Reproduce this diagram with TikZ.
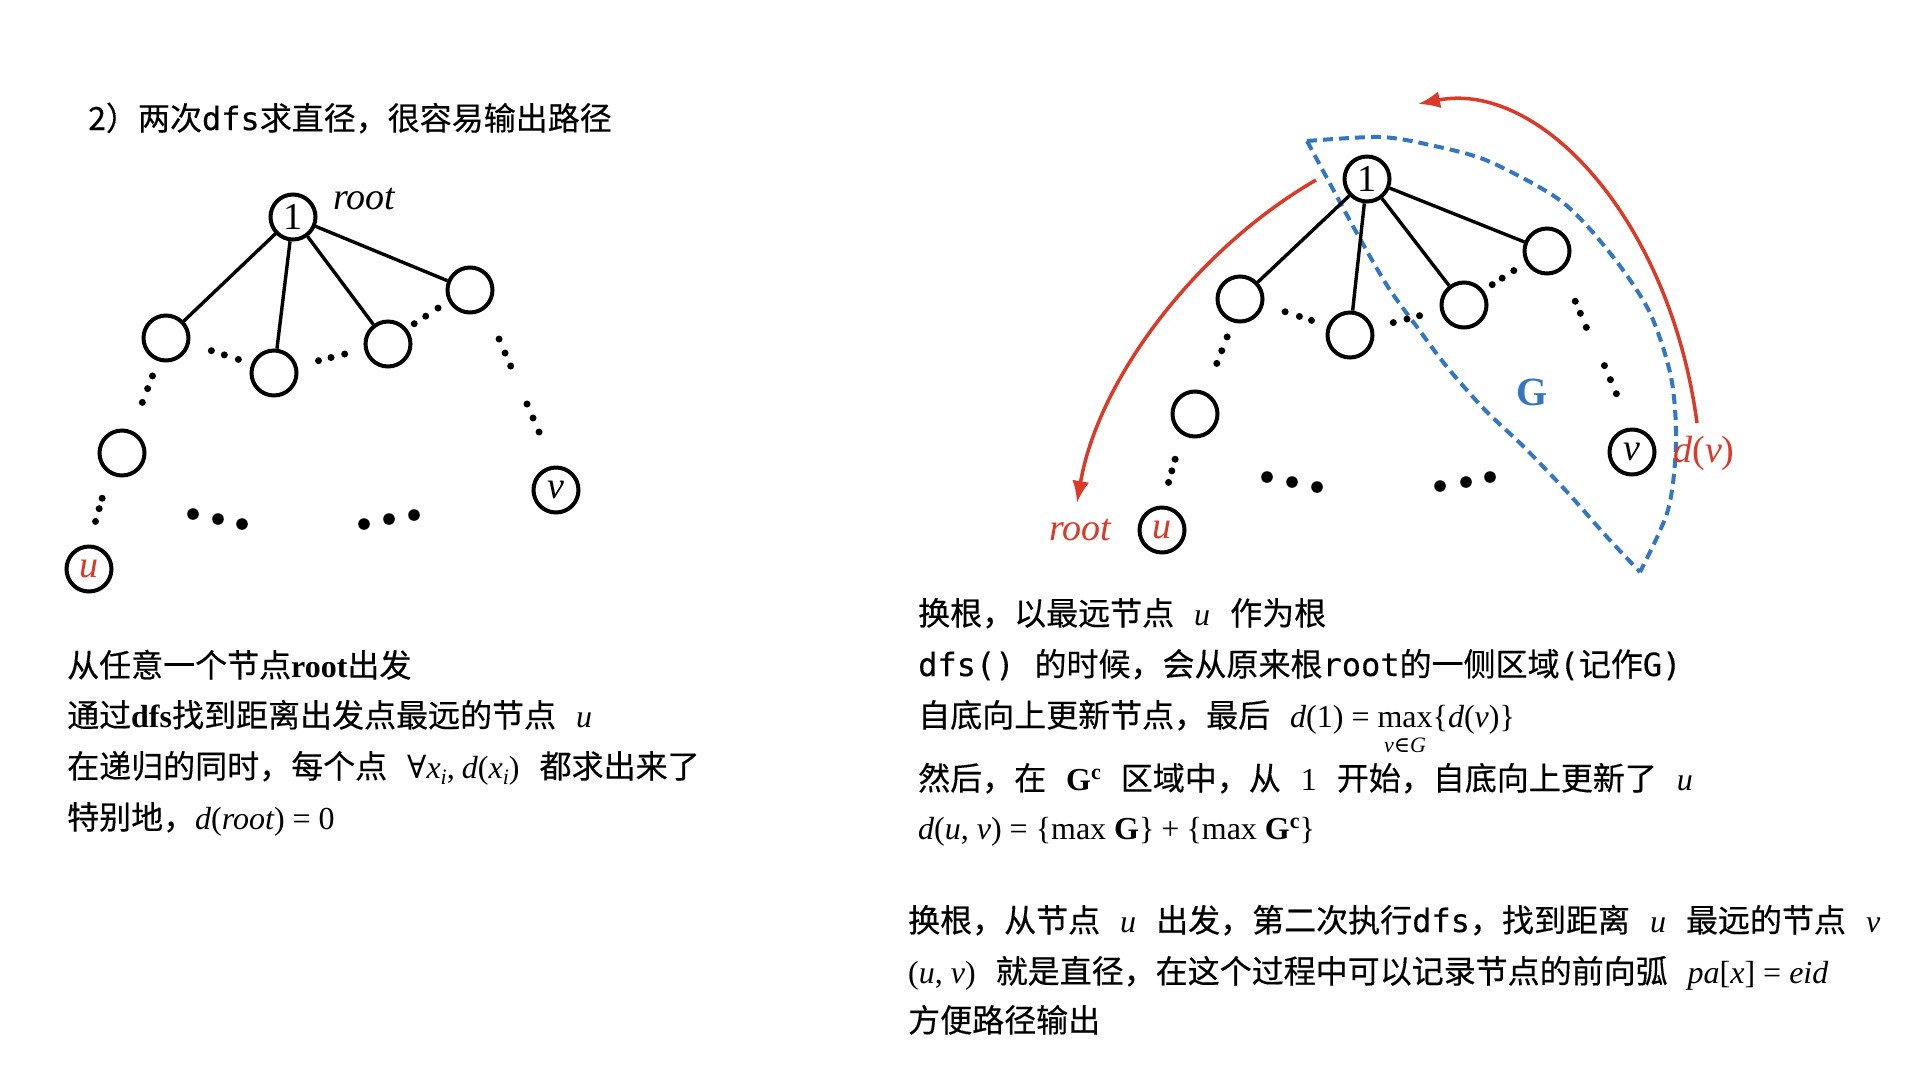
\documentclass[tikz,border=0pt]{standalone}
\usepackage{fontspec}
\newfontfamily\cjk[FakeBold=0.4]{Noto Sans CJK SC}
\newfontfamily\mono[FakeBold=0.3]{DejaVu Sans Mono}
\newfontfamily\tms{Liberation Serif}
\newfontfamily\djs{DejaVu Serif}
\usetikzlibrary{calc,arrows.meta}
\definecolor{myred}{RGB}{219,58,40}
\definecolor{myblue}{RGB}{52,118,192}
\tikzset{
  tnode/.style={circle,draw=black,line width=4pt,minimum size=45pt,inner sep=0pt,font=\tms\fontsize{38}{38}\selectfont},
  edge/.style={line width=3.4pt},
  txt/.style={anchor=base west,inner sep=0pt,font=\cjk\fontsize{32}{38}\selectfont},
  lbl/.style={inner sep=0pt,font=\tms\fontsize{38}{38}\selectfont},
  redarrow/.style={myred,line width=3.5pt,-{Latex[length=22pt,width=17pt]}},
  gdash/.style={myblue,line width=4pt,dash pattern=on 10pt off 6pt},
}
\newcommand\sdots[6]{%
  \foreach \tv in {#3,#4,#5}{\fill ($(#1)!\tv!(#2)+(#6)$) circle (3.5pt);}}
\newcommand\gp{\hspace{20pt}}
\newcommand\mi[1]{{\tms\itshape #1}}
\newcommand\mr[1]{{\tms #1}}
\newcommand\mb[1]{{\tms\bfseries #1}}
\newcommand\eq{\hspace{8pt}\mr{=}\hspace{8pt}}
\newcommand\subi[1]{\raisebox{-6pt}{\fontsize{22}{22}\selectfont\mi{#1}}}
\newcommand\supb[1]{\raisebox{11pt}{\fontsize{22}{22}\selectfont\mb{#1}}}
\newcommand\maxlim[1]{\setbox0\hbox{\mr{max}}\rlap{\hbox to \wd0{\hss\raisebox{-25pt}[0pt][0pt]{\fontsize{22}{22}\selectfont #1}\hss}}\box0}
\begin{document}
\begin{tikzpicture}[x=1pt,y=-1pt]
\useasboundingbox (0,0) rectangle (1920,1080);
\fill[white] (0,0) rectangle (1920,1080);

% ---------- title ----------
\node[txt] (title) at (88,130) {2）两次{\mono dfs}求直径，很容易输出路径};

% ---------- left tree ----------
\node[tnode] (L1) at (293,217) {1};
\node[tnode] (LA) at (166,338) {};
\node[tnode] (LB) at (274,373) {};
\node[tnode] (LC) at (388,344) {};
\node[tnode] (LD) at (470,290) {};
\node[tnode] (LE) at (122,453) {};
\node[tnode] (Lu) at (89,569) {\color{myred}\itshape u};
\node[tnode] (Lv) at (556,490) {\itshape v};
\node[lbl] (Lroot) at (364,199) {\itshape root};
\foreach \c in {LA,LB,LC,LD} \draw[edge] (L1) -- (\c);
\sdots{LA}{LB}{0.42}{0.54}{0.67}{0,-2}
\sdots{LB}{LC}{0.39}{0.50}{0.62}{0,-1}
\sdots{LC}{LD}{0.32}{0.46}{0.61}{0,-3}
\sdots{LA}{LE}{0.33}{0.44}{0.56}{1,0}
\sdots{LE}{Lu}{0.39}{0.48}{0.59}{-7,0}
\sdots{LD}{Lv}{0.245}{0.315}{0.38}{8,0}
\sdots{LD}{Lv}{0.57}{0.64}{0.71}{8,0}
\foreach \p in {(193,514),(218,519),(242,524),(364,524),(389,519),(414,515)}
  \fill \p circle (5.8pt);

% ---------- right tree ----------
\draw[gdash] plot[smooth] coordinates {(1307,141) (1380,137) (1430,145) (1488,161) (1561,201) (1610,253) (1649,311) (1671,377) (1676,443) (1668,510) (1640,572)};
\draw[gdash] plot[smooth] coordinates {(1307,141) (1335,193) (1359,237) (1388,287) (1417,327) (1447,367) (1485,410) (1524,447) (1568,493) (1607,537) (1640,572)};

\node[tnode] (R1) at (1367,179) {1};
\node[tnode] (RA) at (1240,299) {};
\node[tnode] (RB) at (1350,335) {};
\node[tnode] (RC) at (1464,305) {};
\node[tnode] (RD) at (1547,251) {};
\node[tnode] (RE) at (1195,414) {};
\node[tnode] (Ru) at (1162,530) {\color{myred}\itshape u};
\node[tnode] (Rv) at (1632,452) {\itshape v};
\foreach \c in {RA,RB,RC,RD} \draw[edge] (R1) -- (\c);
\sdots{RA}{RB}{0.41}{0.54}{0.65}{0,-2}
\sdots{RB}{RC}{0.38}{0.50}{0.61}{0,-1}
\sdots{RC}{RD}{0.34}{0.46}{0.60}{0,-2}
\sdots{RA}{RE}{0.33}{0.45}{0.56}{2,0}
\sdots{RE}{Ru}{0.39}{0.49}{0.59}{-7,0}
\sdots{RD}{Rv}{0.25}{0.31}{0.38}{7,0}
\sdots{RD}{Rv}{0.57}{0.64}{0.71}{9,0}
\foreach \p in {(1267,477),(1292,482),(1317,487),(1440,486),(1466,482),(1490,477)}
  \fill \p circle (5.8pt);

\node[lbl,text=myred] (Rroot) at (1080,530) {\itshape root};
\node[lbl,text=myred] (dv) at (1704,453) {\itshape d\upshape(\itshape v\upshape)};
\node[lbl,text=myblue,font=\tms\bfseries\fontsize{40}{40}\selectfont] (G) at (1532,392) {G};

\coordinate (a1s) at (1316,180);
\coordinate (a1e) at (1077,503);
\coordinate (a2s) at (1697,423);
\coordinate (a2e) at (1418,104);
\draw[redarrow] (a1s) .. controls (1195,250) and (1098,380) .. (a1e);
\draw[redarrow] (a2s) .. controls (1670,220) and (1540,80) .. (a2e);

% ---------- left text ----------
\node[txt] (l1) at (67,677) {从任意一个节点\mb{root}出发};
\node[txt] (l2) at (67,727) {通过\mb{dfs}找到距离出发点最远的节点\gp\mi{u}};
\node[txt] (l3) at (67,778) {在递归的同时，每个点\gp{\djs ∀}\mi{x}\subi{i}\mr{,} \mi{d}\mr{(}\mi{x}\subi{i}\mr{)}\gp{}都求出来了};
\node[txt] (l4) at (67,829) {特别地，\mi{d}\mr{(}\mi{root}\mr{)}\eq\mr{0}};

% ---------- right text ----------
\node[txt] (r1) at (918,625) {换根，以最远节点\gp\mi{u}\gp{}作为根};
\node[txt] (r2) at (918,676) {{\mono dfs()}\gp{}的时候，会从原来根{\mono root}的一侧区域{\mono(}记作{\mono G)}};
\node[txt] (r3) at (918,727) {自底向上更新节点，最后\gp\mi{d}\mr{(1)}\eq\maxlim{\mi{v}{\djs ∈}\mi{G}}\mr{\{}\mi{d}\mr{(}\mi{v}\mr{)\}}};
\node[txt] (r4) at (918,790) {然后，在\gp\mb{G}\supb{c}\gp{}区域中，从\gp\mr{1}\gp{}开始，自底向上更新了\gp\mi{u}};
\node[txt] (r5) at (918,839) {\mi{d}\mr{(}\mi{u}\mr{, }\mi{v}\mr{)}\eq\mr{\{max }\mb{G}\mr{\}}\hspace{7pt}\mr{+}\hspace{7pt}\mr{\{max }\mb{G}\supb{c}\mr{\}}};

\node[txt] (b1) at (908,932) {换根，从节点\gp\mi{u}\gp{}出发，第二次执行{\mono dfs}，找到距离\gp\mi{u}\gp{}最远的节点\gp\mi{v}};
\node[txt] (b2) at (908,983) {\mr{(}\mi{u}\mr{, }\mi{v}\mr{)}\gp{}就是直径，在这个过程中可以记录节点的前向弧\gp\mi{pa}\mr{[}\mi{x}\mr{]}\eq\mi{eid}};
\node[txt] (b3) at (908,1032) {方便路径输出};
\end{tikzpicture}
\end{document}
